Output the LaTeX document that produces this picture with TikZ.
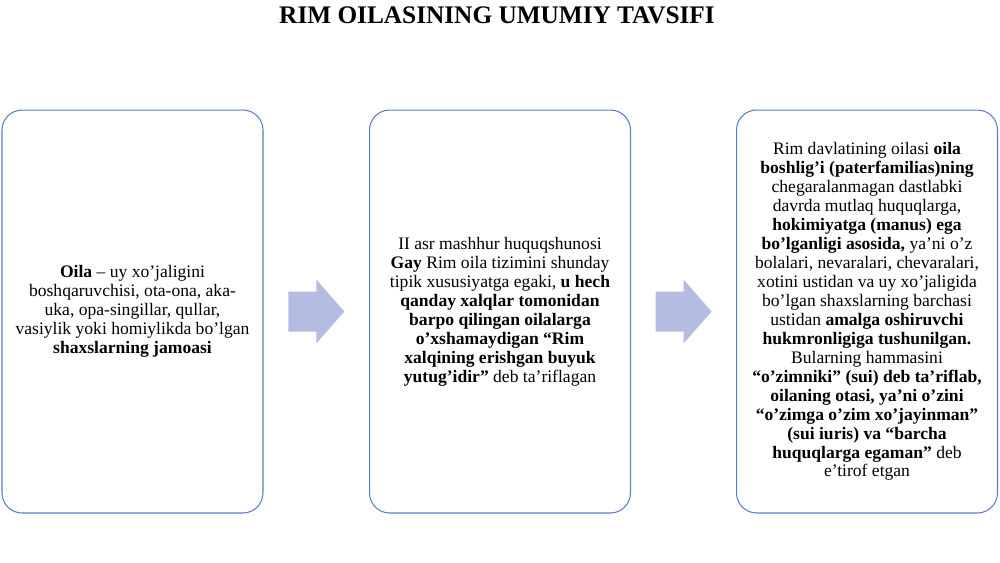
\documentclass[tikz,border=0pt]{standalone}
\usepackage{fontspec}
\setmainfont{Liberation Serif}
\usetikzlibrary{calc}
\definecolor{boxline}{RGB}{91,125,200}
\definecolor{arrowfill}{RGB}{180,189,225}
\begin{document}
\begin{tikzpicture}[x=0.02cm, y=-0.02cm]
	\tikzstyle{infobox}=[draw=boxline, line width=0.6pt, rounded corners=4mm, minimum width=5.22cm, minimum height=8.06cm, align=center, font=\fontsize{10}{10.8}\selectfont]
	\tikzstyle{blockarrow}=[fill=arrowfill]
	\newcommand\YMid{311.5}
	\useasboundingbox (0,0) rectangle (1000,562);

	\node [font=\bfseries\fontsize{14.4}{16}\selectfont] at (497,15) (title) {RIM OILASINING UMUMIY TAVSIFI};

	% boxes
	\node [infobox] at (132.5,\YMid) (box1) {\textbf{Oila} – uy xo’jaligini\\
		boshqaruvchisi, ota-ona, aka-\\
		uka, opa-singillar, qullar,\\
		vasiylik yoki homiylikda bo’lgan\\
		\textbf{shaxslarning jamoasi}};
	\node [infobox] at (500,\YMid) (box2) {II asr mashhur huquqshunosi\\
		\textbf{Gay} Rim oila tizimini shunday\\
		tipik xususiyatga egaki, \textbf{u hech}\\
		\textbf{qanday xalqlar tomonidan}\\
		\textbf{barpo qilingan oilalarga}\\
		\textbf{o’xshamaydigan “Rim}\\
		\textbf{xalqining erishgan buyuk}\\
		\textbf{yutug’idir”} deb ta’riflagan};
	\node [infobox] at (867,\YMid) (box3) {Rim davlatining oilasi \textbf{oila}\\
		\textbf{boshlig’i (paterfamilias)ning}\\
		chegaralanmagan dastlabki\\
		davrda mutlaq huquqlarga,\\
		\textbf{hokimiyatga (manus) ega}\\
		\textbf{bo’lganligi asosida,} ya’ni o’z\\
		bolalari, nevaralari, chevaralari,\\
		xotini ustidan va uy xo’jaligida\\
		bo’lgan shaxslarning barchasi\\
		ustidan \textbf{amalga oshiruvchi}\\
		\textbf{hukmronligiga tushunilgan.}\\
		Bularning hammasini\\
		\textbf{“o’zimniki” (sui) deb ta’riflab,}\\
		\textbf{oilaning otasi, ya’ni o’zini}\\
		\textbf{“o’zimga o’zim xo’jayinman”}\\
		\textbf{(sui iuris) va “barcha}\\
		\textbf{huquqlarga egaman”} deb\\
		e’tirof etgan};

	% arrows between boxes
	\foreach \a/\b in {box1/box2, box2/box3}
	{
		\coordinate (mid) at ($(\a.east)!0.5!(\b.west)$);
		\fill [blockarrow] ($(mid)+(-28,-20)$) -- ++(28,0) -- ++(0,-12) -- ++(28,32) -- ++(-28,32) -- ++(0,-12) -- ++(-28,0) -- cycle;
	}
\end{tikzpicture}
\end{document}
